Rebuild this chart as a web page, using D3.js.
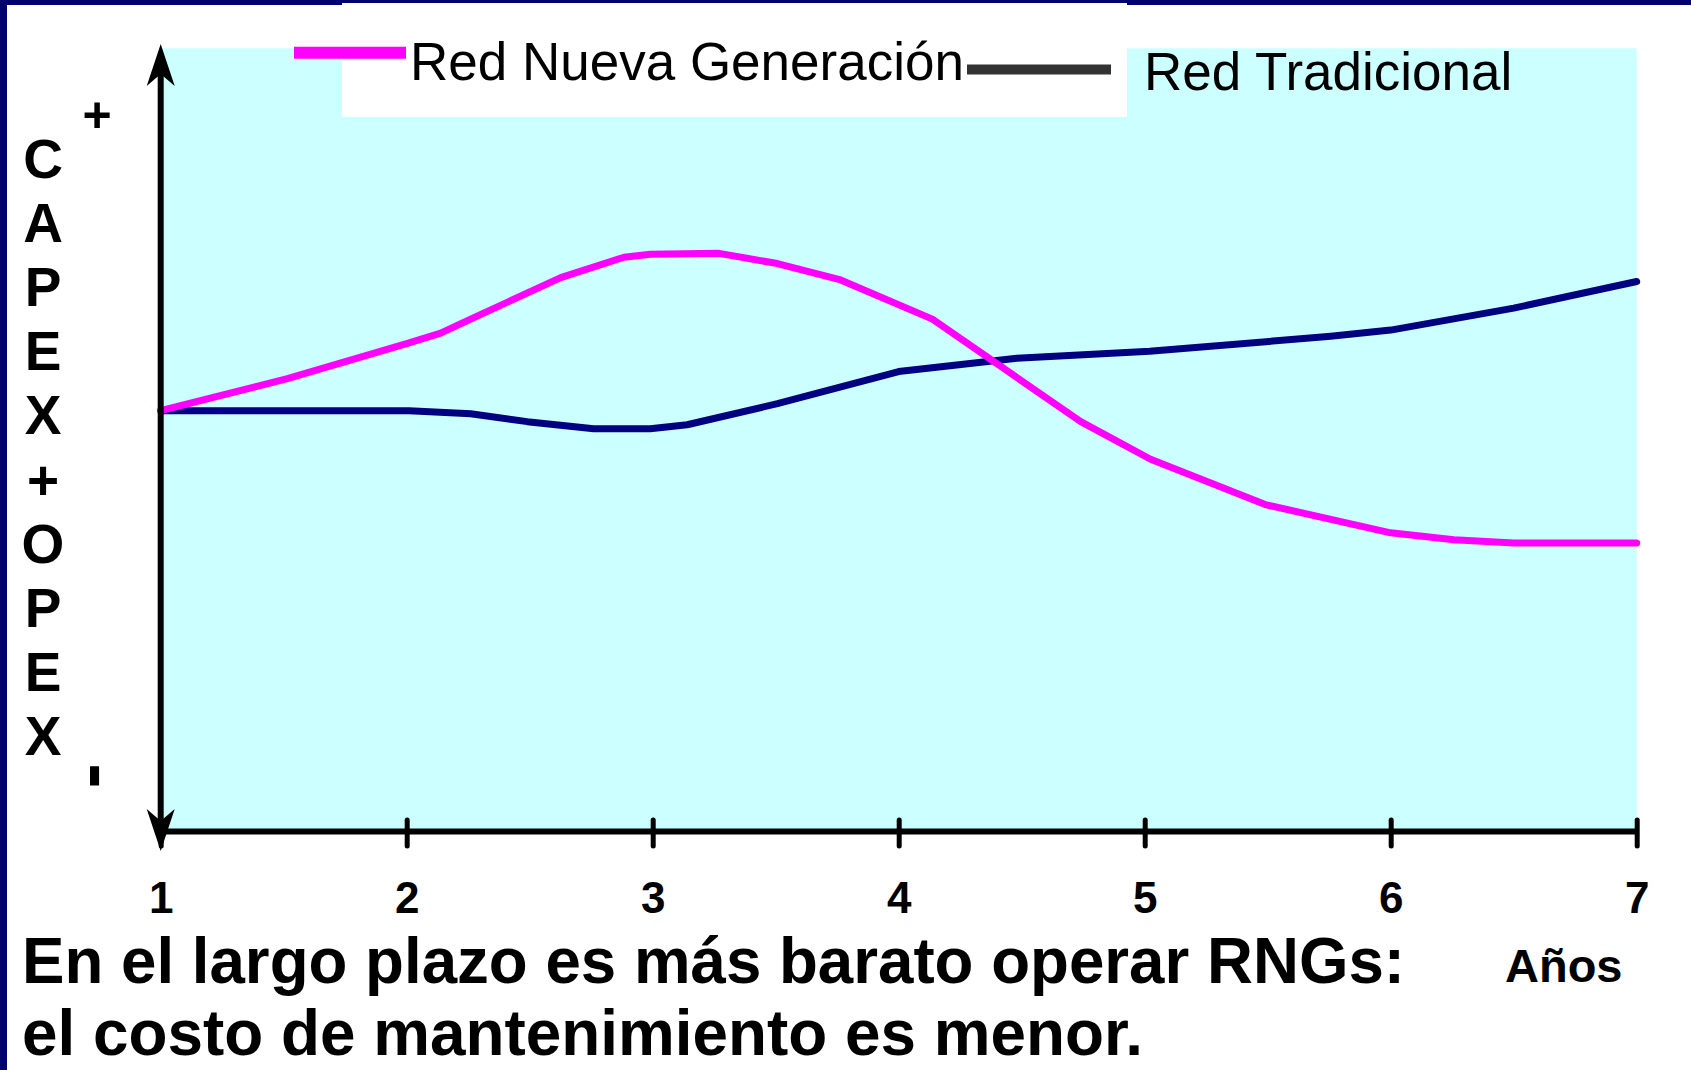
<!DOCTYPE html>
<html>
<head>
<meta charset="utf-8">
<script src="https://cdn.jsdelivr.net/npm/d3@7"></script>
<style>
  body { margin: 0; background: #ffffff; }
  svg { display: block; }
  text { font-family: "Liberation Sans", Arial, sans-serif; }
</style>
</head>
<body>
<svg width="1691" height="1070"></svg>
<script>
/* data (years, arbitrary cost units 0-100) */
var rngYears   = [1, 1.515, 2.003, 2.138, 2.26, 2.626, 2.883, 2.99, 3.27, 3.507, 3.764, 4.137, 4.74, 5.024, 5.49, 6, 6.257, 6.5, 7]
var rngValues  = [53.7, 57.8, 62.3, 63.6, 65.4, 70.7, 73.3, 73.7, 73.8, 72.5, 70.4, 65.4, 52.3, 47.5, 41.7, 38.1, 37.2, 36.8, 36.8]

var tradYears  = [1, 2.01, 2.26, 2.49, 2.76, 2.99, 3.14, 3.507, 4, 4.48, 5.02, 5.756, 6, 6.5, 7]
var tradValues = [53.7, 53.7, 53.3, 52.3, 51.4, 51.4, 51.9, 54.6, 58.7, 60.4, 61.3, 63.2, 64, 66.8, 70.2]

var seriesNames  = ["Red Nueva Generación", "Red Tradicional"]
var tickYears    = [1, 2, 3, 4, 5, 6, 7]
var yLabelChars  = ["C", "A", "P", "E", "X", "+", "O", "P", "E", "X"]
var xLabel       = "Años"
var footLines    = ["En el largo plazo es más barato operar RNGs:", "el costo de mantenimiento es menor."]

/* layout */
var W = 1691, H = 1070
var navy = "#000070"
var pink = "#ff00ff"
var trad = "#000080"

var svg = d3.select("svg")

var x = d3.scaleLinear().domain([1, 7]).range([160.7, 1636.7])
var y = d3.scaleLinear().domain([0, 100]).range([831, 48.3])

/*-- slide frame --*/
svg.append("rect").attr("width", W).attr("height", H).attr("fill", navy)
svg.append("rect").attr("x", 7).attr("y", 5).attr("width", W - 7).attr("height", H - 5).attr("fill", "#ffffff")

/*-- plot background --*/
svg.append("rect")
    .attr("x", x(1)).attr("y", y(100))
    .attr("width", x(7) - x(1)).attr("height", y(0) - y(100))
    .attr("fill", "#ccffff")

/*-- legend box --*/
svg.append("rect")
    .attr("x", 342).attr("y", 3).attr("width", 785).attr("height", 114)
    .attr("fill", "#ffffff")

/*-- series --*/
function toPoints(xs, vs) {
    return xs.map(function (d, i) { return [d, vs[i]] })
}

var line = d3.line()
    .x(function (d) { return x(d[0]) })
    .y(function (d) { return y(d[1]) })

svg.append("path")
    .datum(toPoints(tradYears, tradValues))
    .attr("d", line)
    .attr("fill", "none")
    .attr("stroke", trad)
    .attr("stroke-width", 7)
    .attr("stroke-linecap", "round")
    .attr("stroke-linejoin", "round")

svg.append("path")
    .datum(toPoints(rngYears, rngValues))
    .attr("d", line)
    .attr("fill", "none")
    .attr("stroke", pink)
    .attr("stroke-width", 7)
    .attr("stroke-linecap", "round")
    .attr("stroke-linejoin", "round")

/*-- x axis --*/
var xAxis = svg.append("g")
    .attr("transform", "translate(0," + y(0) + ")")
    .call(d3.axisBottom(x).tickValues(tickYears).tickFormat(d3.format("d")).tickSizeInner(15).tickSizeOuter(0))

xAxis.select(".domain").attr("stroke", "#000").attr("stroke-width", 6)
xAxis.selectAll(".tick line")
    .attr("y1", -11).attr("y2", 15)
    .attr("stroke", "#000").attr("stroke-width", 5).attr("stroke-linecap", "round")
xAxis.selectAll(".tick text")
    .attr("y", 82).attr("dy", null)
    .attr("fill", "#000")
    .attr("font-family", "'Liberation Sans', Arial, sans-serif")
    .attr("font-size", 44).attr("font-weight", "bold")

/*-- y axis with arrows --*/
var ax = x(1)
svg.append("line")
    .attr("x1", ax).attr("x2", ax)
    .attr("y1", 60).attr("y2", y(0) + 8)
    .attr("stroke", "#000").attr("stroke-width", 6)

function arrowHead(tipY, dir) {
    // dir -1 points up, +1 points down
    var base = tipY - dir * 42, notch = tipY - dir * 30
    return "M" + ax + "," + tipY +
        "L" + (ax + 14) + "," + base +
        "L" + ax + "," + notch +
        "L" + (ax - 14) + "," + base + "Z"
}
svg.append("path").attr("d", arrowHead(44, -1)).attr("fill", "#000")
svg.append("path").attr("d", arrowHead(851, 1)).attr("fill", "#000")

/*-- y label, stacked letters --*/
svg.append("g").selectAll("text")
    .data(yLabelChars)
    .enter()
    .append("text")
    .text(function (d) { return d })
    .attr("x", 43)
    .attr("y", function (d, i) { return 178 + i * 64.1 })
    .attr("text-anchor", "middle")
    .attr("font-size", 55)
    .attr("font-weight", "bold")

svg.append("text").text("+")
    .attr("x", 97).attr("y", 132)
    .attr("text-anchor", "middle")
    .attr("font-size", 50).attr("font-weight", "bold")

svg.append("text").text("-")
    .attr("transform", "translate(75,776) rotate(90)")
    .attr("text-anchor", "middle")
    .attr("font-size", 76).attr("font-weight", "bold")

/*-- legend --*/
svg.append("line")
    .attr("x1", 294).attr("x2", 406).attr("y1", 52.7).attr("y2", 52.7)
    .attr("stroke", pink).attr("stroke-width", 12)
svg.append("text").text(seriesNames[0])
    .attr("x", 410).attr("y", 80)
    .attr("font-size", 53)

svg.append("line")
    .attr("x1", 967).attr("x2", 1111).attr("y1", 69.5).attr("y2", 69.5)
    .attr("stroke", "#333333").attr("stroke-width", 10)
svg.append("text").text(seriesNames[1])
    .attr("x", 1144).attr("y", 89.5)
    .attr("font-size", 53)

/*-- axis title and footnote --*/
svg.append("text").text(xLabel)
    .attr("x", 1505).attr("y", 982)
    .attr("font-size", 47).attr("font-weight", "bold")

svg.selectAll(".foot")
    .data(footLines)
    .enter()
    .append("text")
    .attr("class", "foot")
    .text(function (d) { return d })
    .attr("x", 22)
    .attr("y", function (d, i) { return 983 + i * 72 })
    .attr("font-size", 64)
    .attr("font-weight", "bold")
    .attr("textLength", function (d, i) { return i == 0 ? 1383 : 1121 })
    .attr("lengthAdjust", "spacingAndGlyphs")
</script>
</body>
</html>
